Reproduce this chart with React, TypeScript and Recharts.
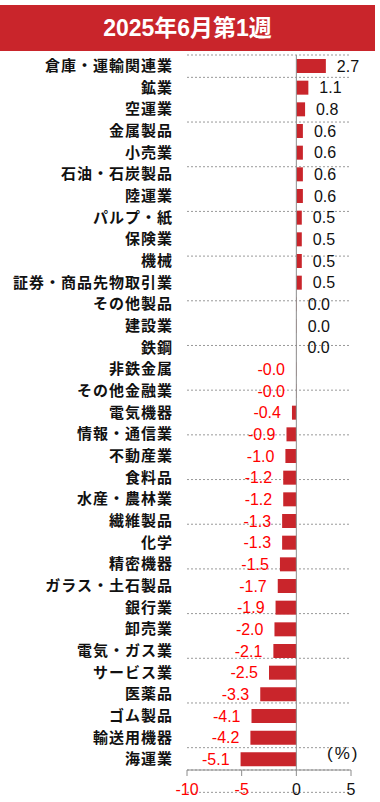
import React from 'react'
import {
  BarChart,
  Bar,
  XAxis,
  YAxis,
  CartesianGrid,
  ReferenceLine,
  LabelList,
} from 'recharts'

const industries = [
  '倉庫・運輸関連業',
  '鉱業',
  '空運業',
  '金属製品',
  '小売業',
  '石油・石炭製品',
  '陸運業',
  'パルプ・紙',
  '保険業',
  '機械',
  '証券・商品先物取引業',
  'その他製品',
  '建設業',
  '鉄鋼',
  '非鉄金属',
  'その他金融業',
  '電気機器',
  '情報・通信業',
  '不動産業',
  '食料品',
  '水産・農林業',
  '繊維製品',
  '化学',
  '精密機器',
  'ガラス・土石製品',
  '銀行業',
  '卸売業',
  '電気・ガス業',
  'サービス業',
  '医薬品',
  'ゴム製品',
  '輸送用機器',
  '海運業',
]

const changes = [
  2.7, 1.1, 0.8, 0.6, 0.6, 0.6, 0.6, 0.5, 0.5, 0.5, 0.5, 0.04, 0.03, 0.01,
  -0.03, -0.03, -0.4, -0.9, -1.0, -1.2, -1.2, -1.3, -1.3, -1.5, -1.7, -1.9,
  -2.0, -2.1, -2.5, -3.3, -4.1, -4.2, -5.1,
]

const xTicks = [-10, -5, 0, 5]

const title = '2025年6月第1週'
const unit = '(%)'

const RED = '#C9252B'
const NEG_TEXT = '#FF0000'
const GRAY = '#8C8C8C'

const data = industries.map((name, i) => ({ name, value: changes[i] }))
// row boundaries for the dotted separators
const rowEdges = Array.from({ length: industries.length + 1 }, (_, i) => i)

const ValueLabel = (props: any) => {
  const { x, y, width, height, value } = props
  const neg = value < 0
  const end = neg ? Math.min(x, x + width) : Math.max(x, x + width)
  return (
    <text
      x={neg ? end - 11 : end + 11}
      y={y + height / 2}
      dominantBaseline='central'
      textAnchor={neg ? 'end' : 'start'}
      fill={neg ? NEG_TEXT : '#111'}
      fontSize={16}
      fontFamily="'Liberation Sans', Arial, sans-serif"
    >
      {Number(value).toFixed(1)}
    </text>
  )
}

const XTick = (props: any) => {
  const { x, y, payload } = props
  return (
    <text
      x={x}
      y={y}
      dy='0.71em'
      textAnchor='middle'
      fill={payload.value < 0 ? NEG_TEXT : '#111'}
      fontSize={16}
      fontFamily="'Liberation Sans', Arial, sans-serif"
    >
      {payload.value}
    </text>
  )
}

const App = () => {
  return (
    <div
      style={{
        position: 'absolute',
        left: 0,
        top: 0,
        width: 380,
        height: 802,
        background: '#fff',
      }}
    >
      <BarChart
        width={380}
        height={802}
        data={data}
        layout='vertical'
        margin={{ top: 55, right: 29, bottom: 0, left: 0 }}
        barSize={14}
      >
        <CartesianGrid
          yAxisId='edge'
          vertical={false}
          stroke='#999'
          strokeDasharray='2 2'
        />
        <XAxis
          type='number'
          domain={[-10, 5]}
          ticks={xTicks}
          height={32}
          stroke={GRAY}
          tickSize={6}
          tickMargin={8}
          tick={<XTick />}
        />
        <YAxis
          yAxisId='cat'
          type='category'
          dataKey='name'
          width={187}
          interval={0}
          tickLine={false}
          axisLine={false}
          tickSize={0}
          tickMargin={14}
          tick={{
            fill: '#111',
            fontSize: 15,
            letterSpacing: 1,
            fontWeight: 'bold',
            fontFamily: "'Noto Sans CJK JP', sans-serif",
          }}
        />
        <YAxis
          yAxisId='edge'
          type='number'
          domain={[0, industries.length]}
          ticks={rowEdges}
          hide
        />
        <Bar
          yAxisId='cat'
          dataKey='value'
          fill={RED}
          isAnimationActive={false}
        >
          <LabelList dataKey='value' content={<ValueLabel />} />
        </Bar>
        <ReferenceLine yAxisId='cat' x={0} stroke={GRAY} />
      </BarChart>
      <div
        style={{
          position: 'absolute',
          left: 0,
          top: 5,
          width: 375,
          height: 46,
          background: RED,
          color: '#fff',
          fontFamily: "'Liberation Sans', 'Noto Sans CJK JP', sans-serif",
          fontWeight: 'bold',
          fontSize: 23,
          lineHeight: '46px',
          textAlign: 'center',
        }}
      >
        {title}
      </div>
      <div
        style={{
          position: 'absolute',
          left: 327,
          top: 744,
          fontFamily: "'Liberation Sans', Arial, sans-serif",
          fontSize: 17,
          color: '#111',
          letterSpacing: 2,
        }}
      >
        {unit}
      </div>
    </div>
  )
}

export default App
